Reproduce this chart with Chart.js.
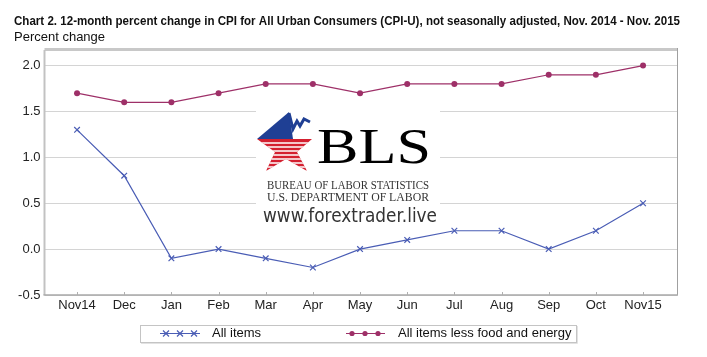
<!DOCTYPE html>
<html><head><meta charset="utf-8">
<script src="https://cdn.jsdelivr.net/npm/chart.js@4"></script>
<style>html,body{margin:0;padding:0;background:#fff}#wrap{width:707px;height:357px;position:relative}</style>
</head><body><div id="wrap"><canvas id="c" width="707" height="357"></canvas></div>
<script>
const categories = ['Nov14','Dec','Jan','Feb','Mar','Apr','May','Jun','Jul','Aug','Sep','Oct','Nov15'];
const allItems = [1.3, 0.8, -0.1, 0.0, -0.1, -0.2, 0.0, 0.1, 0.2, 0.2, 0.0, 0.2, 0.5];
const coreItems = [1.7, 1.6, 1.6, 1.7, 1.8, 1.8, 1.7, 1.8, 1.8, 1.8, 1.9, 1.9, 2.0];
const yTicks = [-0.5, 0, 0.5, 1.0, 1.5, 2.0];
const seriesNames = ['All items', 'All items less food and energy'];
const titleText = 'Chart 2. 12-month percent change in CPI for All Urban Consumers (CPI-U), not seasonally adjusted, Nov. 2014 - Nov. 2015';
const subtitleText = 'Percent change';

const BLUE = '#4a5db5';
const MAROON = '#9e3068';
const SANS = '"Liberation Sans", Arial, sans-serif';
const SERIF = '"Liberation Serif", "Times New Roman", serif';

function fitText(ctx, text, x, yMid, w, font, color) {
  ctx.save();
  ctx.font = font; ctx.fillStyle = color; ctx.textBaseline = 'middle'; ctx.textAlign = 'left';
  const m = ctx.measureText(text).width;
  ctx.translate(x, yMid); ctx.scale(w / m, 1);
  ctx.fillText(text, 0, 0);
  ctx.restore();
}

function drawCross(ctx, x, y, r) {
  ctx.beginPath();
  ctx.moveTo(x - r, y - r); ctx.lineTo(x + r, y + r);
  ctx.moveTo(x - r, y + r); ctx.lineTo(x + r, y - r);
  ctx.stroke();
}

const decor = {
  id: 'decor',
  afterDraw(chart) {
    const ctx = chart.ctx, ca = chart.chartArea;
    ctx.save();
    // frame
    ctx.lineCap = 'butt';
    ctx.strokeStyle = '#c8c8c8'; ctx.lineWidth = 3;
    ctx.beginPath(); ctx.moveTo(ca.left, ca.top - 0.5); ctx.lineTo(ca.right, ca.top - 0.5); ctx.stroke();
    ctx.strokeStyle = '#c2c2c2'; ctx.lineWidth = 2;
    ctx.beginPath(); ctx.moveTo(ca.left, ca.top); ctx.lineTo(ca.left, ca.bottom); ctx.stroke();
    ctx.strokeStyle = '#a0a0a0'; ctx.lineWidth = 1;
    ctx.beginPath(); ctx.moveTo(ca.right + 0.5, ca.top - 2); ctx.lineTo(ca.right + 0.5, ca.bottom); ctx.stroke();
    ctx.strokeStyle = '#a8a8a8'; ctx.lineWidth = 1.5;
    ctx.beginPath(); ctx.moveTo(ca.left - 1, ca.bottom); ctx.lineTo(ca.right + 1, ca.bottom); ctx.stroke();
    // small x tick marks inside the axis
    const xs = chart.scales.x;
    ctx.strokeStyle = '#b0b0b0'; ctx.lineWidth = 1;
    categories.forEach((c, i) => {
      const px = Math.round(xs.getPixelForValue(i)) + 0.5;
      ctx.beginPath(); ctx.moveTo(px, ca.bottom); ctx.lineTo(px, ca.bottom - 3); ctx.stroke();
    });

    // titles
    ctx.fillStyle = '#111'; ctx.textBaseline = 'middle'; ctx.textAlign = 'left';
    ctx.font = 'bold 12.5px ' + SANS;
    const tw = ctx.measureText(titleText).width;
    ctx.save(); ctx.translate(14, 22); ctx.scale(666 / tw, 1); ctx.fillText(titleText, 0, 0); ctx.restore();
    ctx.font = '13px ' + SANS; ctx.fillStyle = '#111';
    ctx.fillText(subtitleText, 14, 37);

    // watermark
    ctx.fillStyle = '#fff';
    ctx.fillRect(256, 106, 184, 102);
    // star red body
    ctx.save();
    ctx.beginPath();
    ctx.moveTo(257, 139); ctx.lineTo(312, 139); ctx.lineTo(297, 152); ctx.lineTo(307, 171);
    ctx.lineTo(286, 159); ctx.lineTo(266, 171); ctx.lineTo(275, 152); ctx.closePath();
    ctx.fillStyle = '#d42030'; ctx.fill();
    ctx.clip();
    ctx.strokeStyle = '#fff'; ctx.lineWidth = 1.4;
    for (let y = 143; y < 172; y += 4) { ctx.beginPath(); ctx.moveTo(250, y); ctx.lineTo(320, y); ctx.stroke(); }
    ctx.restore();
    // star blue top
    ctx.beginPath();
    ctx.moveTo(257, 139); ctx.lineTo(289, 112); ctx.lineTo(293, 139); ctx.closePath();
    ctx.fillStyle = '#1f3f94'; ctx.fill();
    ctx.strokeStyle = '#1f3f94'; ctx.lineWidth = 3; ctx.lineJoin = 'miter';
    ctx.beginPath();
    ctx.moveTo(289, 113); ctx.lineTo(293, 129); ctx.lineTo(297, 121); ctx.lineTo(300, 126);
    ctx.lineTo(304, 119); ctx.lineTo(310, 122); ctx.stroke();
    // BLS text
    fitText(ctx, 'BLS', 317, 150, 114, '50px ' + SERIF, '#000');
    fitText(ctx, 'BUREAU OF LABOR STATISTICS', 267, 186, 162, '12px ' + SERIF, '#333');
    fitText(ctx, 'U.S. DEPARTMENT OF LABOR', 267, 198, 162, '12px ' + SERIF, '#333');
    fitText(ctx, 'www.forextrader.live', 263, 217, 174, '19px "DejaVu Sans", sans-serif', '#333');

    // legend
    ctx.strokeStyle = '#c4c4c4'; ctx.lineWidth = 1;
    ctx.strokeRect(140.5, 325.5, 436, 17);
    ctx.strokeStyle = '#e2e2e2';
    ctx.beginPath(); ctx.moveTo(141, 343.5); ctx.lineTo(577.5, 343.5); ctx.lineTo(577.5, 326); ctx.stroke();
    const ly = 333.5;
    ctx.strokeStyle = BLUE; ctx.lineWidth = 1.2;
    ctx.beginPath(); ctx.moveTo(160, ly); ctx.lineTo(200, ly); ctx.stroke();
    [166, 180, 194].forEach(x => drawCross(ctx, x, ly, 3));
    ctx.strokeStyle = MAROON;
    ctx.beginPath(); ctx.moveTo(346, ly); ctx.lineTo(385, ly); ctx.stroke();
    ctx.fillStyle = MAROON;
    [352, 365, 378].forEach(x => { ctx.beginPath(); ctx.arc(x, ly, 2.6, 0, Math.PI * 2); ctx.fill(); });
    ctx.fillStyle = '#111'; ctx.font = '13px ' + SANS; ctx.textBaseline = 'middle';
    ctx.fillText(seriesNames[0], 212, ly);
    ctx.fillText(seriesNames[1], 398, ly);
    ctx.restore();
  }
};

new Chart(document.getElementById('c'), {
  type: 'line',
  data: {
    datasets: [
      {
        label: seriesNames[0],
        data: allItems.map((v, i) => ({ x: i, y: v })),
        borderColor: BLUE, backgroundColor: BLUE, borderWidth: 1.2,
        pointStyle: 'crossRot', pointRadius: 4, pointBorderWidth: 1.2, tension: 0
      },
      {
        label: seriesNames[1],
        data: coreItems.map((v, i) => ({ x: i, y: v })),
        borderColor: MAROON, backgroundColor: MAROON, borderWidth: 1.2,
        pointStyle: 'circle', pointRadius: 3, pointBorderWidth: 0, tension: 0
      }
    ]
  },
  options: {
    responsive: false, animation: false, devicePixelRatio: 1,
    layout: { padding: { top: 50, left: 14, right: 30, bottom: 42 } },
    plugins: { legend: { display: false }, tooltip: { enabled: false }, title: { display: false } },
    scales: {
      x: {
        type: 'linear', min: -0.69, max: 12.72,
        afterBuildTicks: s => { s.ticks = categories.map((_, i) => ({ value: i })); },
        afterFit: s => { s.height = 20; },
        ticks: { callback: v => categories[v], autoSkip: false, maxRotation: 0, padding: 3,
                 color: '#222', font: { size: 13, family: SANS } },
        grid: { display: false, drawTicks: false },
        border: { display: false }
      },
      y: {
        min: -0.5, max: 2.17,
        afterBuildTicks: s => { s.ticks = yTicks.map(v => ({ value: v })); },
        afterFit: s => { s.width = 30.5; },
        ticks: { callback: v => v.toFixed(1), padding: 4, color: '#222', font: { size: 13, family: SANS } },
        grid: { color: '#d4d4d4', lineWidth: 1, drawTicks: false },
        border: { display: false }
      }
    }
  },
  plugins: [decor]
});
</script></body></html>
